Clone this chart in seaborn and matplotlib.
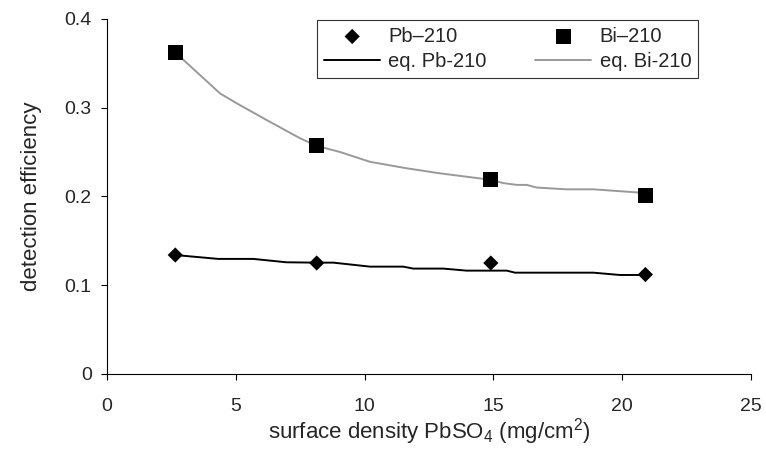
import numpy as np
import pandas as pd
import matplotlib
matplotlib.use("Agg")
import matplotlib.pyplot as plt
import seaborn as sns

# measured points
dens = [2.65, 8.14, 14.9, 20.9]
pb_eff = [0.134, 0.125, 0.125, 0.112]
bi_eff = [0.362, 0.257, 0.219, 0.2015]

# fitted curves
pb_eq_x = [2.64, 4.32, 5.68, 6.97, 8.14, 8.79, 10.21, 11.5, 11.89, 13.05, 13.96, 15.52, 15.84, 18.88, 19.91, 21.0]
pb_eq_y = [0.134, 0.1296, 0.1296, 0.1258, 0.1254, 0.1254, 0.1209, 0.1209, 0.1187, 0.1187, 0.1164, 0.1164, 0.1141, 0.1141, 0.1115, 0.1115]
bi_eq_x = [2.65, 2.96, 4.39, 5.03, 6.2, 7.49, 8.14, 9.05, 10.21, 11.63, 12.93, 14.83, 15.39, 15.9, 16.29, 16.68, 17.85, 18.88, 20.69, 21.0]
bi_eq_y = [0.362, 0.354, 0.316, 0.305, 0.286, 0.2656, 0.257, 0.250, 0.239, 0.2317, 0.226, 0.219, 0.215, 0.213, 0.213, 0.210, 0.208, 0.208, 0.2043, 0.2035]

sns.set_style("ticks")
plt.rcParams['font.family'] = ['Liberation Sans', 'DejaVu Sans']
plt.rcParams['mathtext.default'] = 'regular'

fig = plt.figure(figsize=(7.66, 4.5), dpi=100)
ax = fig.add_axes([0.1397, 0.169, 0.8407, 0.789])

sns.lineplot(x=pb_eq_x, y=pb_eq_y, color='black', lw=1.4, ax=ax, label='eq. Pb-210', sort=False)
sns.lineplot(x=bi_eq_x, y=bi_eq_y, color='#999999', lw=1.4, ax=ax, label='eq. Bi-210', sort=False)
sns.scatterplot(x=dens, y=pb_eff, marker='D', s=60, color='black', edgecolor='none', ax=ax, label='Pb\u2013210', zorder=5)
sns.scatterplot(x=dens, y=bi_eff, marker='s', s=115, color='black', edgecolor='none', ax=ax, label='Bi\u2013210', zorder=5)

ax.set_xlim(0, 25)
ax.set_ylim(0, 0.4)
ax.set_xticks([0, 5, 10, 15, 20, 25])
ax.set_yticks([0, 0.1, 0.2, 0.3, 0.4])
ax.set_yticklabels(['0', '0.1', '0.2', '0.3', '0.4'])
ax.tick_params(labelsize=14, length=4, width=0.8, color='black')
ax.tick_params(axis='x', pad=13)
ax.tick_params(axis='y', pad=7)
for s in ['left', 'bottom']:
    ax.spines[s].set_color('black')
    ax.spines[s].set_linewidth(0.8)
sns.despine(ax=ax)

ax.set_xlabel('surface density PbSO$_4$ (mg/cm$^2$)', fontsize=16, labelpad=1)
ax.set_ylabel('detection efficiency', fontsize=16, labelpad=16)

h, l = ax.get_legend_handles_labels()
order = [2, 0, 3, 1]
leg = ax.legend([h[i] for i in order], [l[i] for i in order], ncol=2,
                bbox_to_anchor=(0.326, 0.834, 0.592, 0.183), mode='expand',
                loc='lower left', borderaxespad=0, fontsize=14.5, frameon=True,
                fancybox=False, edgecolor='black', handlelength=2.8,
                handletextpad=0.4, columnspacing=1.4, labelspacing=0.3,
                borderpad=0.35)
leg.get_frame().set_linewidth(0.8)

fig.savefig('out.png', dpi=100)
